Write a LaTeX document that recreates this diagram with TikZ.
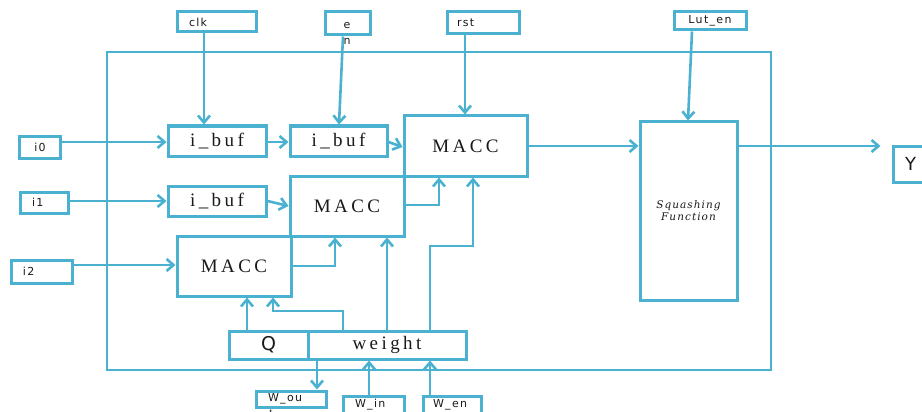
\documentclass[tikz,border=0pt]{standalone}
\usepackage{fontspec}
\setmainfont{Liberation Serif}
\newfontfamily\tagfont[LetterSpace=12]{DejaVu Sans}
\newfontfamily\blkfont[LetterSpace=18]{Liberation Serif}
\newfontfamily\sqfont[LetterSpace=10]{DejaVu Serif}
\usetikzlibrary{arrows.meta}
\definecolor{lblue}{RGB}{75,177,208}
\definecolor{ink}{RGB}{25,25,25}

\begin{document}
\begin{tikzpicture}[x=1pt, y=-1pt,
  blk/.style={draw=lblue, line width=3pt, inner sep=0pt, text=ink, font=\blkfont\fontsize{19}{22}\selectfont},
  tag/.style={draw=lblue, line width=3pt, inner sep=0pt, text=ink, font=\tagfont\fontsize{11}{16}\selectfont},
  wire/.style={lblue, line width=2.6pt, -{Straight Barb[length=7pt,width=12pt]}}]
  \useasboundingbox (0,0) rectangle (922,412);

  \draw[lblue, line width=2.8pt] (107,52) rectangle (771,370);

  \node[tag, minimum width=79pt, minimum height=20pt, inner xsep=12pt, text width=55pt, align=left] (clk) at (216.5,22) {clk};
  \node[tag, minimum width=45pt, minimum height=23pt] (en) at (347.5,23.5) {};
  \node[tag, draw=none, align=center] (entxt) at (347,33) {e\\n};
  \node[tag, minimum width=72pt, minimum height=22pt, inner xsep=10pt, text width=52pt, align=left] (rst) at (483,23) {rst};
  \node[tag, minimum width=72pt, minimum height=18pt] (luten) at (710,21) {Lut\_en};
  \node[tag, minimum width=41pt, minimum height=22pt] (i0) at (40,147.5) {i0};
  \node[tag, minimum width=48pt, minimum height=21pt, inner xsep=12pt, text width=24pt, align=left] (i1) at (44,202.5) {i1};
  \node[tag, minimum width=61pt, minimum height=23pt, inner xsep=12pt, text width=37pt, align=left] (i2) at (41.5,271.5) {i2};
  \node[tag, minimum width=70pt, minimum height=16pt, inner xsep=12pt, text width=46pt, align=left] (wou) at (291,399) {W\_ou};
  \node[tag, draw=none, font=\tagfont\fontsize{8}{10}\selectfont] (wout) at (271,413) {t};
  \node[tag, minimum width=61pt, minimum height=18pt, inner xsep=12pt, text width=37pt, align=left] (win) at (373.5,405) {W\_in};
  \node[tag, minimum width=58pt, minimum height=18pt, inner xsep=10pt, text width=38pt, align=left] (wen) at (452,405) {W\_en};
  \node[tag, minimum width=52pt, minimum height=36pt, inner xsep=12pt, text width=28pt, align=left, font=\tagfont\fontsize{18}{20}\selectfont] (y) at (919,164) {Y};

  \node[blk, minimum width=98pt, minimum height=30pt] (ibufa) at (217,141) {i\_buf};
  \node[blk, minimum width=97pt, minimum height=30pt] (ibufb) at (338.5,141) {i\_buf};
  \node[blk, minimum width=98pt, minimum height=30pt] (ibufc) at (217,201) {i\_buf};
  \node[blk, minimum width=123pt, minimum height=60pt] (macca) at (465.5,146) {MACC};
  \node[blk, minimum width=114pt, minimum height=60pt] (maccb) at (347,206) {MACC};
  \node[blk, minimum width=114pt, minimum height=60pt] (maccc) at (234,266) {MACC};
  \node[blk, minimum width=79pt, minimum height=28pt, font=\tagfont\fontsize{19}{22}\selectfont] (q) at (268.5,345) {Q};
  \node[blk, minimum width=158pt, minimum height=28pt] (weight) at (387,345) {weight};
  \node[blk, minimum width=97pt, minimum height=178pt, align=center, font=\sqfont\itshape\fontsize{10.5}{12}\selectfont] (sq) at (688.5,211) {Squashing\\Function};

  \draw[wire] (clk.south -| 204,0) -- (ibufa.north -| 204,0);
  \draw[wire] (en.south -| 343,0) -- (ibufb.north -| 339,0);
  \draw[wire] (rst.south -| 465,0) -- (macca.north -| 465,0);
  \draw[wire] (luten.south -| 692,0) -- (sq.north -| 688,0);

  \draw[wire] (i0.east |- 0,142) -- (ibufa.west |- 0,142);
  \draw[wire] (ibufa.east |- 0,142) -- (ibufb.west |- 0,142);
  \draw[wire] (ibufb.east |- 0,142) -- (macca.west |- 0,147);
  \draw[wire] (i1.east |- 0,201) -- (ibufc.west |- 0,201);
  \draw[wire] (ibufc.east |- 0,201) -- (maccb.west |- 0,206);
  \draw[wire] (i2.east |- 0,265) -- (maccc.west |- 0,265);

  \draw[wire] (maccc.east |- 0,266) -| (maccb.south -| 335,0);
  \draw[wire] (maccb.east |- 0,205) -| (macca.south -| 439,0);
  \draw[wire] (weight.north -| 387,0) -- (maccb.south -| 387,0);
  \draw[wire] (weight.north -| 430,0) -- (430,246) -| (macca.south -| 473,0);
  \draw[wire] (q.north -| 247,0) -- (maccc.south -| 247,0);
  \draw[wire] (weight.north -| 343,0) -- (343,311) -| (maccc.south -| 273,0);

  \draw[wire] (weight.south -| 317,0) -- (wou.north -| 317,0);
  \draw[wire] (win.north -| 369,0) -- (weight.south -| 369,0);
  \draw[wire] (wen.north -| 430,0) -- (weight.south -| 430,0);

  \draw[wire] (macca.east |- 0,146) -- (sq.west |- 0,146);
  \draw[wire, shorten >=11pt] (sq.east |- 0,146) -- (y.west |- 0,146);
\end{tikzpicture}
\end{document}
